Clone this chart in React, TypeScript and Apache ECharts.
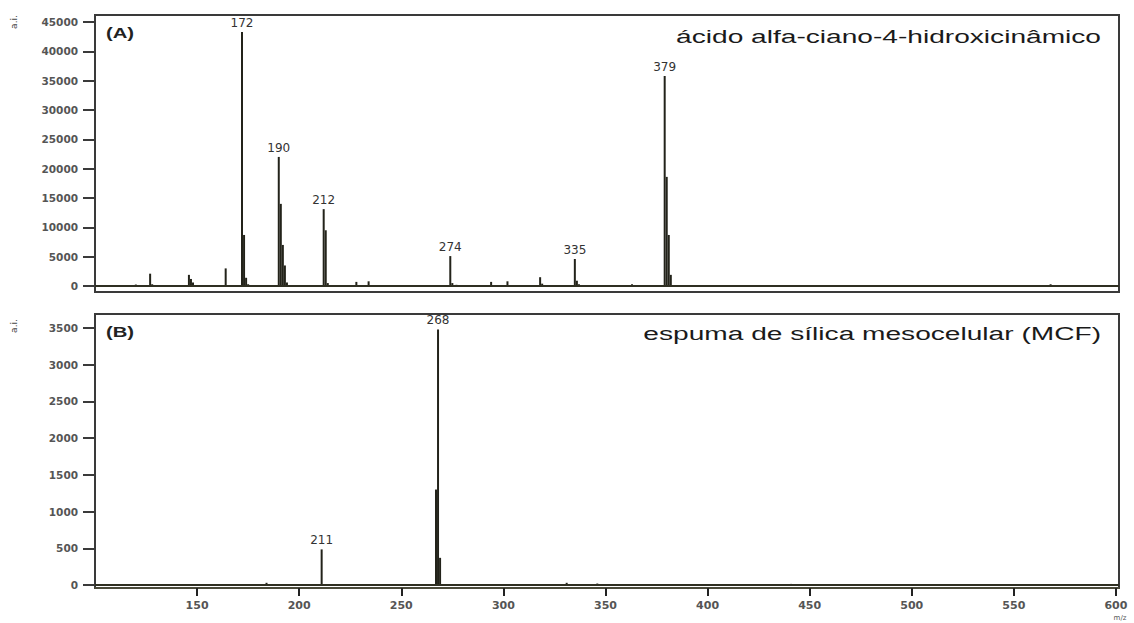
import React, { useEffect, useRef } from "react";
import * as echarts from "echarts";

// ---------- data ----------
const X_MIN = 100;
const X_MAX = 601.5;
const X_TICKS = [150, 200, 250, 300, 350, 400, 450, 500, 550, 600];
const A_MAX = 45000;
const A_STEP = 5000;
const B_MAX = 3500;
const B_STEP = 500;

// (A) ácido alfa-ciano-4-hidroxicinâmico
const specA_mz = [107, 120, 127, 128, 146, 147, 148, 164, 172, 173, 174, 175, 190, 191, 192, 193, 194, 212, 213, 214, 228, 234, 245, 274, 275, 277, 294, 302, 318, 319, 335, 336, 337, 347, 363, 379, 380, 381, 382, 402, 426, 441, 568];
const specA_int = [150, 250, 2100, 300, 1900, 1200, 600, 3000, 43300, 8700, 1400, 300, 22000, 14000, 7000, 3500, 600, 13100, 9500, 500, 700, 800, 100, 5100, 500, 200, 700, 800, 1500, 400, 4600, 900, 300, 100, 300, 35800, 18600, 8700, 1900, 100, 100, 150, 300];
const labelsA = [172, 190, 212, 274, 335, 379];

// (B) espuma de sílica mesocelular (MCF)
const specB_mz = [184, 211, 267, 268, 269, 331, 346, 441];
const specB_int = [30, 485, 1300, 3480, 370, 30, 20, 15];
const labelsB = [211, 268];

const titleA = "ácido alfa-ciano-4-hidroxicinâmico";
const titleB = "espuma de sílica mesocelular (MCF)";

const INK = "#23231a";
const AXIS = "#3a3a3a";

function buildData(mz: number[], ints: number[], labels: number[]) {
  return mz.map((m, i) => ({
    value: [m, ints[i]],
    label: labels.includes(m) ? { show: true } : { show: false },
  }));
}

export default function App() {
  const ref = useRef<HTMLDivElement>(null);
  useEffect(() => {
    if (!ref.current) return;
    const chart = echarts.init(ref.current, null, { renderer: "svg" });
    const yLabel = () => ({
      fontFamily: "DejaVu Sans",
      fontWeight: "bold" as const,
      fontSize: 10.5,
      color: "#555",
      margin: 17,
      formatter: (v: number) => String(v),
    });
    const yTick = () => ({ show: true, inside: false, interval: 0, length: 12, lineStyle: { color: AXIS, width: 2 } });
    const peakLabel = {
      show: false,
      position: "top" as const,
      distance: 3,
      fontFamily: "DejaVu Sans",
      fontSize: 12,
      color: "#333",
      formatter: (p: any) => String(p.value[0]),
    };
    const baseline = {
      symbol: "none",
      silent: true,
      label: { show: false },
      lineStyle: { color: "#2f2f22", width: 2, type: "solid" as const },
      data: [{ yAxis: 0 }],
    };
    const boxStyle = { fill: "none", stroke: AXIS, lineWidth: 2 };
    const option: any = {
      animation: false,
      backgroundColor: "#fff",
      grid: [
        { left: 95, top: 22, width: 1024, height: 264, show: false, containLabel: false },
        { left: 95, top: 328, width: 1024, height: 257, show: false, containLabel: false },
      ],
      xAxis: [
        {
          gridIndex: 0,
          type: "value",
          min: X_MIN,
          max: X_MAX,
          axisLine: { show: false },
          axisTick: { show: false },
          axisLabel: { show: false },
          splitLine: { show: false },
        },
        {
          gridIndex: 1,
          type: "value",
          min: X_MIN,
          max: X_MAX,
          offset: 3,
          axisLine: { show: true, onZero: false, lineStyle: { color: "#4a4a3a", width: 2 } },
          axisTick: { show: true, length: 8, customValues: X_TICKS, lineStyle: { color: "#222", width: 2 } },
          axisLabel: {
            show: true,
            customValues: X_TICKS,
            fontFamily: "DejaVu Sans",
            fontSize: 11,
            fontWeight: "bold",
            color: "#555",
            margin: 12,
          },
          splitLine: { show: false },
        },
      ],
      yAxis: [
        {
          gridIndex: 0,
          type: "value",
          position: "left",
          min: 0,
          max: A_MAX,
          interval: A_STEP,
          axisLine: { show: true, onZero: false, lineStyle: { color: AXIS, width: 2 } },
          axisTick: yTick(),
          axisLabel: yLabel(),
          splitLine: { show: false },
        },
        {
          gridIndex: 1,
          type: "value",
          position: "left",
          min: 0,
          max: B_MAX,
          interval: B_STEP,
          axisLine: { show: true, onZero: false, lineStyle: { color: AXIS, width: 2 } },
          axisTick: yTick(),
          axisLabel: yLabel(),
          splitLine: { show: false },
        },
      ],
      series: [
        {
          type: "bar",
          xAxisIndex: 0,
          yAxisIndex: 0,
          barWidth: 2,
          itemStyle: { color: INK },
          label: peakLabel,
          data: buildData(specA_mz, specA_int, labelsA),
          markLine: baseline,
          z: 3,
        },
        {
          type: "bar",
          xAxisIndex: 1,
          yAxisIndex: 1,
          barWidth: 2,
          itemStyle: { color: INK },
          label: peakLabel,
          data: buildData(specB_mz, specB_int, labelsB),
          markLine: baseline,
          z: 3,
        },
      ],
      graphic: [
        { type: "rect", shape: { x: 95, y: 15, width: 1024, height: 277 }, style: boxStyle, silent: true },
        { type: "rect", shape: { x: 95, y: 314, width: 1024, height: 274 }, style: boxStyle, silent: true },
        { type: "text", x: 106, y: 33, scaleX: 1.35, style: { text: "(A)", fontFamily: "Liberation Sans", fontWeight: "bold", fontSize: 15, fill: "#222", verticalAlign: "middle", align: "left" } },
        { type: "text", x: 106, y: 332, scaleX: 1.35, style: { text: "(B)", fontFamily: "Liberation Sans", fontWeight: "bold", fontSize: 15, fill: "#222", verticalAlign: "middle", align: "left" } },
        { type: "text", x: 1101, y: 36, scaleX: 1.48, style: { text: titleA, fontFamily: "Liberation Sans", fontSize: 19, fill: "#1a1a1a", verticalAlign: "middle", align: "right" } },
        { type: "text", x: 1101, y: 333, scaleX: 1.48, style: { text: titleB, fontFamily: "Liberation Sans", fontSize: 19, fill: "#1a1a1a", verticalAlign: "middle", align: "right" } },
        { type: "text", x: 14, y: 22, rotation: Math.PI / 2, style: { text: "a.i.", fontFamily: "DejaVu Sans", fontSize: 9, fill: "#444", verticalAlign: "middle", align: "center" } },
        { type: "text", x: 14, y: 326, rotation: Math.PI / 2, style: { text: "a.i.", fontFamily: "DejaVu Sans", fontSize: 9, fill: "#444", verticalAlign: "middle", align: "center" } },
        { type: "text", x: 1120, y: 614, style: { text: "m/z", fontFamily: "DejaVu Sans", fontSize: 7, fill: "#555", verticalAlign: "top", align: "center" } },
      ],
    };
    chart.setOption(option);
    return () => chart.dispose();
  }, []);
  return (
    <div
      ref={ref}
      style={{ position: "absolute", left: 0, top: 0, width: 1134, height: 623, background: "#fff" }}
    />
  );
}
